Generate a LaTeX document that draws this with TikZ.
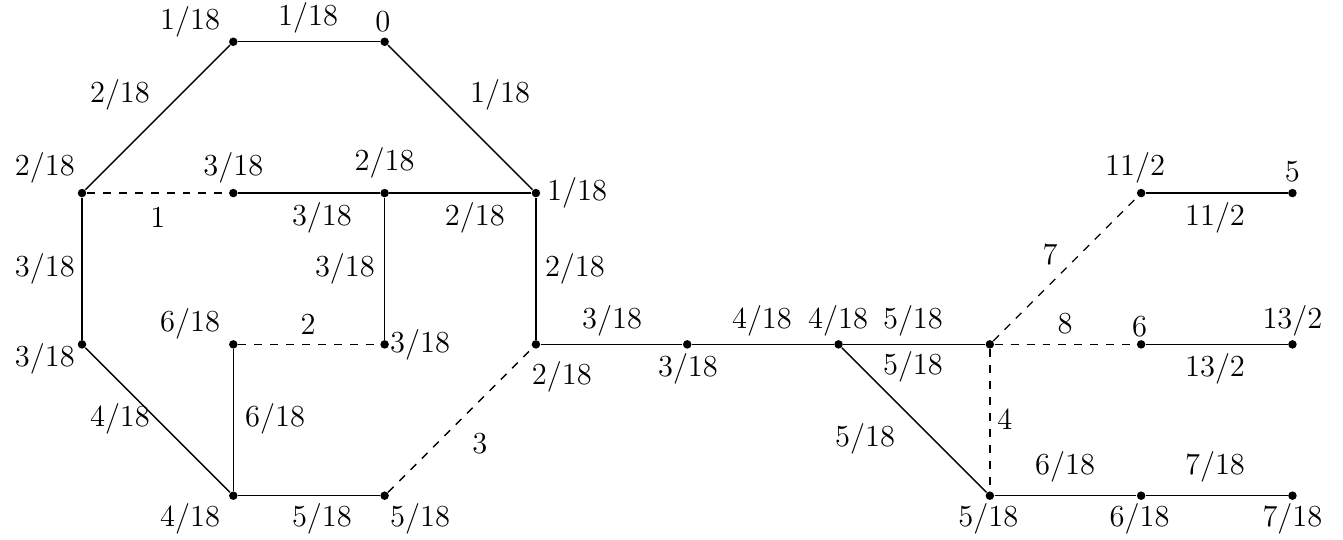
\documentclass[tikz,border=0pt]{standalone}
\begin{document}
\begin{tikzpicture}[x=2cm,y=2cm,
  dot/.style={circle,fill=black,inner sep=0pt,minimum size=3.2pt},
  lbl/.style={inner sep=0pt,font=\fontsize{11.5}{14}\selectfont},
  edge/.style={line width=0.5pt},
  dedge/.style={line width=0.5pt,dashed}]
\useasboundingbox (-0.542,-0.29) rectangle (8.334,3.276);
% vertices
\node[dot] (A) at (1,3) {};
\node[dot] (B) at (2,3) {};
\node[dot] (C) at (0,2) {};
\node[dot] (D) at (1,2) {};
\node[dot] (E) at (2,2) {};
\node[dot] (F) at (3,2) {};
\node[dot] (G) at (0,1) {};
\node[dot] (H) at (1,1) {};
\node[dot] (I) at (2,1) {};
\node[dot] (J) at (3,1) {};
\node[dot] (K) at (1,0) {};
\node[dot] (L) at (2,0) {};
\node[dot] (M) at (4,1) {};
\node[dot] (N) at (5,1) {};
\node[dot] (O) at (6,1) {};
\node[dot] (P) at (7,2) {};
\node[dot] (Q) at (8,2) {};
\node[dot] (R) at (7,1) {};
\node[dot] (S) at (8,1) {};
\node[dot] (T) at (6,0) {};
\node[dot] (U) at (7,0) {};
\node[dot] (V) at (8,0) {};
% solid edges
\draw[edge] (A) -- (B);
\draw[edge] (B) -- (F);
\draw[edge] (A) -- (C);
\draw[edge] (C) -- (G);
\draw[edge] (G) -- (K);
\draw[edge] (K) -- (L);
\draw[edge] (K) -- (H);
\draw[edge] (D) -- (E);
\draw[edge] (E) -- (F);
\draw[edge] (E) -- (I);
\draw[edge] (F) -- (J);
\draw[edge] (J) -- (M);
\draw[edge] (M) -- (N);
\draw[edge] (N) -- (O);
\draw[edge] (N) -- (T);
\draw[edge] (T) -- (U);
\draw[edge] (U) -- (V);
\draw[edge] (P) -- (Q);
\draw[edge] (R) -- (S);
% dashed edges
\draw[dedge] (C) -- (D);
\draw[dedge] (H) -- (I);
\draw[dedge] (L) -- (J);
\draw[dedge] (O) -- (P);
\draw[dedge] (O) -- (R);
\draw[dedge] (O) -- (T);
% vertex labels
\node[lbl] (lA) at (0.714,3.131) {1/18};
\node[lbl] (lB) at (1.989,3.131) {0};
\node[lbl] (lC) at (-0.245,2.169) {2/18};
\node[lbl] (lD) at (1.0,2.169) {3/18};
\node[lbl] (lE) at (2.0,2.2) {2/18};
\node[lbl] (lF) at (3.272,2.0) {1/18};
\node[lbl] (lG) at (-0.245,0.903) {3/18};
\node[lbl] (lH) at (0.714,1.134) {6/18};
\node[lbl] (lI) at (2.234,1.0) {3/18};
\node[lbl] (lJ) at (3.172,0.784) {2/18};
\node[lbl] (lK) at (0.714,-0.152) {4/18};
\node[lbl] (lL) at (2.234,-0.152) {5/18};
\node[lbl] (lM) at (4.005,0.837) {3/18};
\node[lbl] (lN) at (4.997,1.154) {4/18};
\node[lbl] (lP) at (6.96,2.169) {11/2};
\node[lbl] (lQ) at (8.0,2.14) {5};
\node[lbl] (lR) at (6.99,1.12) {6};
\node[lbl] (lS) at (8.0,1.154) {13/2};
\node[lbl] (lT) at (5.99,-0.152) {5/18};
\node[lbl] (lU) at (6.99,-0.152) {6/18};
\node[lbl] (lV) at (8.0,-0.152) {7/18};
% edge labels
\node[lbl] (eAB) at (1.494,3.157) {1/18};
\node[lbl] (eAC) at (0.251,2.65) {2/18};
\node[lbl] (eBF) at (2.763,2.65) {1/18};
\node[lbl] (eCD) at (0.502,1.839) {1};
\node[lbl] (eDE) at (1.586,1.839) {3/18};
\node[lbl] (eEF) at (2.597,1.839) {2/18};
\node[lbl] (eCG) at (-0.245,1.496) {3/18};
\node[lbl] (eEI) at (1.738,1.496) {3/18};
\node[lbl] (eFJ) at (3.258,1.496) {2/18};
\node[lbl] (eHI) at (1.494,1.134) {2};
\node[lbl] (eKH) at (1.276,0.508) {6/18};
\node[lbl] (eGK) at (0.251,0.508) {4/18};
\node[lbl] (eKL) at (1.586,-0.152) {5/18};
\node[lbl] (eLJ) at (2.63,0.343) {3};
\node[lbl] (eJM) at (3.503,1.154) {3/18};
\node[lbl] (eMN) at (4.494,1.154) {4/18};
\node[lbl] (eNO) at (5.492,1.154) {5/18};
\node[lbl] (eNO2) at (5.492,0.85) {5/18};
\node[lbl] (eNT) at (5.175,0.376) {5/18};
\node[lbl] (eOP) at (6.398,1.595) {7};
\node[lbl] (eOR) at (6.497,1.134) {8};
\node[lbl] (eOT) at (6.1,0.508) {4};
\node[lbl] (ePQ) at (7.488,1.839) {11/2};
\node[lbl] (eRS) at (7.488,0.837) {13/2};
\node[lbl] (eTU) at (6.497,0.191) {6/18};
\node[lbl] (eUV) at (7.488,0.191) {7/18};
\end{tikzpicture}
\end{document}
